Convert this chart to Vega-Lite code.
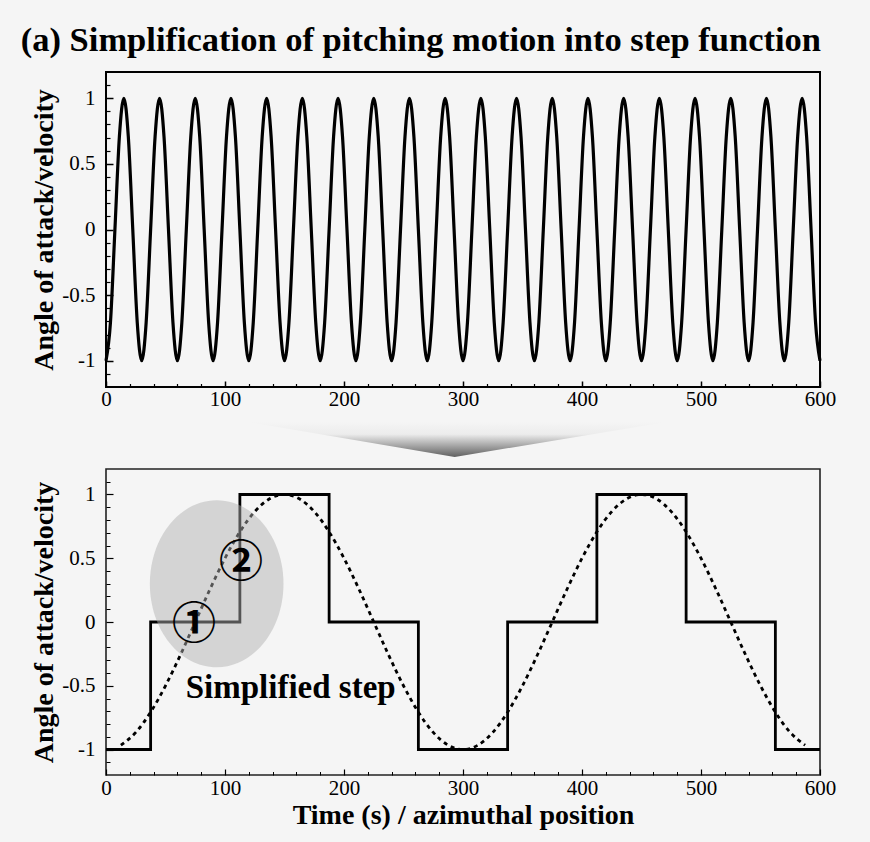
{
  "$schema": "https://vega.github.io/schema/vega-lite/v6.json",
  "background": "#f5f5f5",
  "padding": {"left": 20, "top": 22, "right": 34, "bottom": 18},
  "title": {"text": "(a) Simplification of pitching motion into step function", "anchor": "start", "font": "Liberation Serif", "fontSize": 34.5, "fontWeight": "bold", "color": "black", "offset": 13, "dx": -9},
  "config": {
    "view": {"stroke": "black", "strokeWidth": 2},
    "axis": {"labelFont": "Liberation Serif", "labelFontSize": 21, "labelColor": "black", "titleFont": "Liberation Serif", "titleFontSize": 28, "titleFontWeight": "bold", "titleColor": "black", "tickColor": "black", "domain": false, "grid": false, "labelFlush": false, "labelOverlap": false}
  },
  "datasets": {
    "fast": [
      {"t":0,"v":-1},{"t":3.75,"v":-0.707},{"t":7.5,"v":0},{"t":11.25,"v":0.707},{"t":15,"v":1},{"t":18.75,"v":0.707},{"t":22.5,"v":0},{"t":26.25,"v":-0.707},
      {"t":30,"v":-1},{"t":33.75,"v":-0.707},{"t":37.5,"v":0},{"t":41.25,"v":0.707},{"t":45,"v":1},{"t":48.75,"v":0.707},{"t":52.5,"v":0},{"t":56.25,"v":-0.707},
      {"t":60,"v":-1},{"t":63.75,"v":-0.707},{"t":67.5,"v":0},{"t":71.25,"v":0.707},{"t":75,"v":1},{"t":78.75,"v":0.707},{"t":82.5,"v":0},{"t":86.25,"v":-0.707},
      {"t":90,"v":-1},{"t":93.75,"v":-0.707},{"t":97.5,"v":0},{"t":101.25,"v":0.707},{"t":105,"v":1},{"t":108.75,"v":0.707},{"t":112.5,"v":0},{"t":116.25,"v":-0.707},
      {"t":120,"v":-1},{"t":123.75,"v":-0.707},{"t":127.5,"v":0},{"t":131.25,"v":0.707},{"t":135,"v":1},{"t":138.75,"v":0.707},{"t":142.5,"v":0},{"t":146.25,"v":-0.707},
      {"t":150,"v":-1},{"t":153.75,"v":-0.707},{"t":157.5,"v":0},{"t":161.25,"v":0.707},{"t":165,"v":1},{"t":168.75,"v":0.707},{"t":172.5,"v":0},{"t":176.25,"v":-0.707},
      {"t":180,"v":-1},{"t":183.75,"v":-0.707},{"t":187.5,"v":0},{"t":191.25,"v":0.707},{"t":195,"v":1},{"t":198.75,"v":0.707},{"t":202.5,"v":0},{"t":206.25,"v":-0.707},
      {"t":210,"v":-1},{"t":213.75,"v":-0.707},{"t":217.5,"v":0},{"t":221.25,"v":0.707},{"t":225,"v":1},{"t":228.75,"v":0.707},{"t":232.5,"v":0},{"t":236.25,"v":-0.707},
      {"t":240,"v":-1},{"t":243.75,"v":-0.707},{"t":247.5,"v":0},{"t":251.25,"v":0.707},{"t":255,"v":1},{"t":258.75,"v":0.707},{"t":262.5,"v":0},{"t":266.25,"v":-0.707},
      {"t":270,"v":-1},{"t":273.75,"v":-0.707},{"t":277.5,"v":0},{"t":281.25,"v":0.707},{"t":285,"v":1},{"t":288.75,"v":0.707},{"t":292.5,"v":0},{"t":296.25,"v":-0.707},
      {"t":300,"v":-1},{"t":303.75,"v":-0.707},{"t":307.5,"v":0},{"t":311.25,"v":0.707},{"t":315,"v":1},{"t":318.75,"v":0.707},{"t":322.5,"v":0},{"t":326.25,"v":-0.707},
      {"t":330,"v":-1},{"t":333.75,"v":-0.707},{"t":337.5,"v":0},{"t":341.25,"v":0.707},{"t":345,"v":1},{"t":348.75,"v":0.707},{"t":352.5,"v":0},{"t":356.25,"v":-0.707},
      {"t":360,"v":-1},{"t":363.75,"v":-0.707},{"t":367.5,"v":0},{"t":371.25,"v":0.707},{"t":375,"v":1},{"t":378.75,"v":0.707},{"t":382.5,"v":0},{"t":386.25,"v":-0.707},
      {"t":390,"v":-1},{"t":393.75,"v":-0.707},{"t":397.5,"v":0},{"t":401.25,"v":0.707},{"t":405,"v":1},{"t":408.75,"v":0.707},{"t":412.5,"v":0},{"t":416.25,"v":-0.707},
      {"t":420,"v":-1},{"t":423.75,"v":-0.707},{"t":427.5,"v":0},{"t":431.25,"v":0.707},{"t":435,"v":1},{"t":438.75,"v":0.707},{"t":442.5,"v":0},{"t":446.25,"v":-0.707},
      {"t":450,"v":-1},{"t":453.75,"v":-0.707},{"t":457.5,"v":0},{"t":461.25,"v":0.707},{"t":465,"v":1},{"t":468.75,"v":0.707},{"t":472.5,"v":0},{"t":476.25,"v":-0.707},
      {"t":480,"v":-1},{"t":483.75,"v":-0.707},{"t":487.5,"v":0},{"t":491.25,"v":0.707},{"t":495,"v":1},{"t":498.75,"v":0.707},{"t":502.5,"v":0},{"t":506.25,"v":-0.707},
      {"t":510,"v":-1},{"t":513.75,"v":-0.707},{"t":517.5,"v":0},{"t":521.25,"v":0.707},{"t":525,"v":1},{"t":528.75,"v":0.707},{"t":532.5,"v":0},{"t":536.25,"v":-0.707},
      {"t":540,"v":-1},{"t":543.75,"v":-0.707},{"t":547.5,"v":0},{"t":551.25,"v":0.707},{"t":555,"v":1},{"t":558.75,"v":0.707},{"t":562.5,"v":0},{"t":566.25,"v":-0.707},
      {"t":570,"v":-1},{"t":573.75,"v":-0.707},{"t":577.5,"v":0},{"t":581.25,"v":0.707},{"t":585,"v":1},{"t":588.75,"v":0.707},{"t":592.5,"v":0},{"t":596.25,"v":-0.707},
      {"t":600,"v":-1}
    ],
    "slow": [
      {"t":12.5,"v":-0.966},{"t":25,"v":-0.866},{"t":37.5,"v":-0.707},{"t":50,"v":-0.5},{"t":62.5,"v":-0.259},{"t":75,"v":0},{"t":87.5,"v":0.259},{"t":100,"v":0.5},{"t":112.5,"v":0.707},{"t":125,"v":0.866},{"t":137.5,"v":0.966},{"t":150,"v":1},
      {"t":162.5,"v":0.966},{"t":175,"v":0.866},{"t":187.5,"v":0.707},{"t":200,"v":0.5},{"t":212.5,"v":0.259},{"t":225,"v":0},{"t":237.5,"v":-0.259},{"t":250,"v":-0.5},{"t":262.5,"v":-0.707},{"t":275,"v":-0.866},{"t":287.5,"v":-0.966},{"t":300,"v":-1},
      {"t":312.5,"v":-0.966},{"t":325,"v":-0.866},{"t":337.5,"v":-0.707},{"t":350,"v":-0.5},{"t":362.5,"v":-0.259},{"t":375,"v":0},{"t":387.5,"v":0.259},{"t":400,"v":0.5},{"t":412.5,"v":0.707},{"t":425,"v":0.866},{"t":437.5,"v":0.966},{"t":450,"v":1},
      {"t":462.5,"v":0.966},{"t":475,"v":0.866},{"t":487.5,"v":0.707},{"t":500,"v":0.5},{"t":512.5,"v":0.259},{"t":525,"v":0},{"t":537.5,"v":-0.259},{"t":550,"v":-0.5},{"t":562.5,"v":-0.707},{"t":575,"v":-0.866},{"t":587.5,"v":-0.966}
    ],
    "step": [
      {"t":0,"v":-1},{"t":37.5,"v":0},{"t":112.5,"v":1},{"t":187.5,"v":0},{"t":262.5,"v":-1},{"t":337.5,"v":0},{"t":412.5,"v":1},{"t":487.5,"v":0},{"t":562.5,"v":-1},{"t":600,"v":-1}
    ],
    "funnel": [
      {"x":120,"top":1,"bot":1},{"x":293,"top":1,"bot":0},{"x":471,"top":1,"bot":1}
    ]
  },
  "vconcat": [
    {
      "width": 714, "height": 315,
      "data": {"name": "fast"},
      "layer": [
        {
          "mark": {"type": "line", "color": "black", "strokeWidth": 3.2, "interpolate": "monotone"},
          "encoding": {
            "x": {"field": "t", "type": "quantitative", "scale": {"domain": [0, 600], "nice": false}, "axis": {"values": [0,100,200,300,400,500,600], "tickSize": -6, "tickWidth": 1.5, "labelPadding": 7.5, "title": null, "labelExpr": "datum.value + ''"}},
            "y": {"field": "v", "type": "quantitative", "scale": {"domain": [-1.2, 1.2], "nice": false}, "axis": {"values": [-1,-0.5,0,0.5,1], "tickSize": -7, "tickWidth": 1.5, "labelPadding": 18, "title": "Angle of attack/velocity", "titlePadding": 3, "labelExpr": "datum.value + ''"}}
          }
        },
        {
          "mark": {"type": "point", "opacity": 0},
          "encoding": {
            "x": {"field": "t", "type": "quantitative", "axis": {"orient": "bottom", "values": [20,40,60,80,120,140,160,180,220,240,260,280,320,340,360,380,420,440,460,480,520,540,560,580], "tickSize": -3.5, "tickWidth": 1.2, "labels": false, "title": null}},
            "y": {"field": "v", "type": "quantitative", "axis": {"orient": "left", "values": [-1.1,-0.9,-0.8,-0.7,-0.6,-0.4,-0.3,-0.2,-0.1,0.1,0.2,0.3,0.4,0.6,0.7,0.8,0.9,1.1], "tickSize": -4, "tickWidth": 1.2, "labels": false, "title": null}}
          }
        }
      ],
      "resolve": {"axis": {"x": "independent", "y": "independent"}}
    },
    {
      "width": 714, "height": 35,
      "view": {"stroke": null},
      "data": {"name": "funnel"},
      "mark": {"type": "area", "color": {"gradient": "linear", "x1": 0, "y1": 0, "x2": 0, "y2": 1, "stops": [{"offset": 0, "color": "#f5f5f5"}, {"offset": 0.35, "color": "#ececec"}, {"offset": 1, "color": "#606060"}]}},
      "encoding": {
        "x": {"field": "x", "type": "quantitative", "scale": {"domain": [0, 600], "nice": false}, "axis": null},
        "y": {"field": "top", "type": "quantitative", "scale": {"domain": [0, 1], "nice": false}, "axis": null},
        "y2": {"field": "bot"}
      }
    },
    {
      "width": 714, "height": 306,
      "view": {"stroke": "#222", "strokeWidth": 1.6},
      "layer": [
        {
          "data": {"name": "slow"},
          "mark": {"type": "line", "color": "black", "strokeWidth": 2.8, "strokeDash": [4, 4], "interpolate": "monotone"},
          "encoding": {
            "x": {"field": "t", "type": "quantitative", "scale": {"domain": [0, 600], "nice": false}, "axis": {"values": [0,100,200,300,400,500,600], "tickSize": -6, "tickWidth": 1.2, "labelPadding": 8, "title": "Time (s) / azimuthal position", "titlePadding": 3, "labelExpr": "datum.value + ''"}},
            "y": {"field": "v", "type": "quantitative", "scale": {"domain": [-1.2, 1.2], "nice": false}, "axis": {"values": [-1,-0.5,0,0.5,1], "tickSize": -7, "tickWidth": 1.2, "labelPadding": 18, "title": "Angle of attack/velocity", "titlePadding": 3, "labelExpr": "datum.value + ''"}}
          }
        },
        {
          "data": {"name": "step"},
          "mark": {"type": "line", "color": "black", "strokeWidth": 2.8, "interpolate": "step-after"},
          "encoding": {
            "x": {"field": "t", "type": "quantitative", "axis": {"orient": "bottom", "values": [20,40,60,80,120,140,160,180,220,240,260,280,320,340,360,380,420,440,460,480,520,540,560,580], "tickSize": -3.5, "tickWidth": 1, "labels": false, "title": null}},
            "y": {"field": "v", "type": "quantitative", "axis": {"orient": "left", "values": [-1.1,-0.9,-0.8,-0.7,-0.6,-0.4,-0.3,-0.2,-0.1,0.1,0.2,0.3,0.4,0.6,0.7,0.8,0.9,1.1], "tickSize": -4, "tickWidth": 1, "labels": false, "title": null}}
          }
        },
        {
          "data": {"values": [{"t": 93, "v": 0.3}]},
          "mark": {"type": "point", "filled": true, "shape": "M -0.8 0 A 0.8 1 0 1 0 0.8 0 A 0.8 1 0 1 0 -0.8 0 Z", "size": 27900, "color": "#b0b0b0", "opacity": 0.48, "strokeWidth": 0},
          "encoding": {
            "x": {"field": "t", "type": "quantitative", "axis": null},
            "y": {"field": "v", "type": "quantitative", "axis": null}
          }
        },
        {
          "data": {"values": [{"t": 74, "v": -0.03, "label": "①"}, {"t": 113.5, "v": 0.455, "label": "②"}]},
          "mark": {"type": "text", "font": "Noto Sans CJK SC", "fontSize": 44, "fontWeight": "bold", "color": "black", "baseline": "middle", "align": "center"},
          "encoding": {
            "x": {"field": "t", "type": "quantitative", "axis": null},
            "y": {"field": "v", "type": "quantitative", "axis": null},
            "text": {"field": "label"}
          }
        },
        {
          "data": {"values": [{"t": 67, "v": -0.52, "label": "Simplified step"}]},
          "mark": {"type": "text", "font": "Liberation Serif", "fontSize": 33, "fontWeight": "bold", "color": "black", "baseline": "middle", "align": "left"},
          "encoding": {
            "x": {"field": "t", "type": "quantitative", "axis": null},
            "y": {"field": "v", "type": "quantitative", "axis": null},
            "text": {"field": "label"}
          }
        }
      ],
      "resolve": {"axis": {"x": "independent", "y": "independent"}}
    }
  ],
  "spacing": 11
}
